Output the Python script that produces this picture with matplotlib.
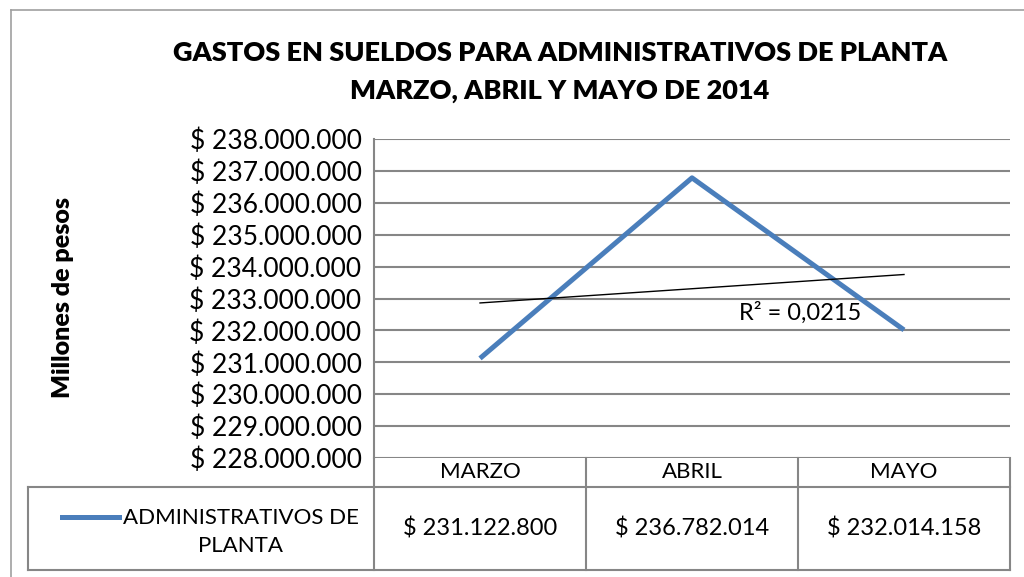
import numpy as np
import matplotlib
matplotlib.use("Agg")
import matplotlib.pyplot as plt
import matplotlib.transforms as mtransforms
from matplotlib.lines import Line2D

plt.rcParams['font.family'] = ['Lato', 'DejaVu Sans']

# data
meses = ["MARZO", "ABRIL", "MAYO"]
sueldos = [231122800, 236782014, 232014158]
serie = "ADMINISTRATIVOS DE\nPLANTA"
titulo = "GASTOS EN SUELDOS PARA ADMINISTRATIVOS DE PLANTA\nMARZO, ABRIL Y MAYO DE 2014"
eje_y = "Millones de pesos"
y_min, y_max, y_paso = 228000000, 238000000, 1000000

W, H = 1024, 577
azul = "#4a7ebb"
gris = "#868686"


def fx(x):
    return x / W


def fy(y):
    return 1 - y / H


def pesos(v):
    return "$ " + f"{v:,.0f}".replace(",", ".")


fig = plt.figure(figsize=(W / 100, H / 100), dpi=100)

# outer frame of the chart
fig.add_artist(Line2D([fx(11), fx(11)], [fy(10), fy(577)], color="#a0a0a0", lw=1.2))
fig.add_artist(Line2D([fx(11), fx(1024)], [fy(10), fy(10)], color="#a0a0a0", lw=1.2))

# plot area
L, R, T, B = 374, 1010, 139, 458
ax = fig.add_axes([fx(L), fy(B), fx(R - L), (B - T) / H])

x = np.arange(1, len(meses) + 1)
ax.plot(x, sueldos, color=azul, lw=3.6, solid_capstyle="butt", zorder=3)

# linear trend line
a, b = np.polyfit(x, sueldos, 1)
ajuste = a * x + b
r2 = 1 - np.sum((np.array(sueldos) - ajuste) ** 2) / np.sum((np.array(sueldos) - np.mean(sueldos)) ** 2)
ax.plot(x, ajuste, color="black", lw=1.0, zorder=4)
ax.text(2.51, 232560000, "R² = " + f"{r2:.4f}".replace(".", ","), fontsize=17,
        ha="center", va="center", zorder=5)

ax.set_xlim(0.5, len(meses) + 0.5)
ax.set_ylim(y_min, y_max)
ticks = np.arange(y_min, y_max + 1, y_paso)
ax.set_yticks(ticks)
ax.set_yticklabels([pesos(t) for t in ticks], fontsize=19)
ax.set_xticks([])
ax.tick_params(axis="y", length=0, pad=9)
ax.grid(axis="y", color=gris, lw=1.5)
ax.set_axisbelow(True)
for s in ["top", "right", "bottom"]:
    ax.spines[s].set_visible(False)
ax.spines["left"].set_color(gris)
ax.spines["left"].set_linewidth(1.5)

fig.text(fx(63), fy(297), eje_y, rotation=90, fontsize=18, fontweight="heavy",
         ha="center", va="center")

fig.text(fx(560), fy(72), titulo, fontsize=19.5, fontweight="heavy",
         ha="center", va="center", linespacing=1.65)

# data table below the plot
tr = mtransforms.blended_transform_factory(ax.transData, fig.transFigure)
h_top, h_mid, h_bot = 458, 487, 570
bordes = [x[0] - 0.5] + list(x + 0.5)
for xb in bordes:
    fig.add_artist(Line2D([xb, xb], [fy(h_top), fy(h_bot)], color=gris, lw=1.5, transform=tr))
fig.add_artist(Line2D([fx(28), fx(R)], [fy(h_mid), fy(h_mid)], color=gris, lw=1.5))
fig.add_artist(Line2D([fx(28), fx(R)], [fy(h_bot), fy(h_bot)], color=gris, lw=1.5))
fig.add_artist(Line2D([fx(28), fx(28)], [fy(h_mid), fy(h_bot)], color=gris, lw=1.5))

for xi, mes, v in zip(x, meses, sueldos):
    fig.text(xi, fy((h_top + h_mid) / 2), mes, transform=tr, fontsize=16,
             ha="center", va="center")
    fig.text(xi, fy((h_mid + h_bot) / 2), pesos(v), transform=tr, fontsize=17,
             ha="center", va="center")

fig.add_artist(Line2D([fx(62), fx(119)], [fy(517), fy(517)], color=azul, lw=3.6))
fig.text(fx(241), fy(532), serie, fontsize=16, ha="center", va="center", linespacing=1.45)

fig.savefig("out.png", dpi=100)
